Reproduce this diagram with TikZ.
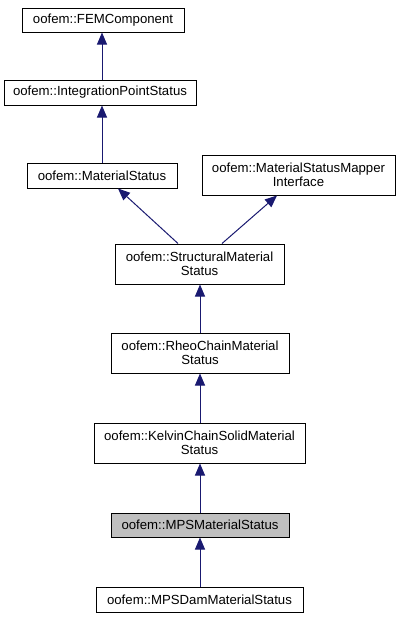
\documentclass[tikz,border=0pt]{standalone}
\usepackage{fontspec}
\setmainfont{Liberation Sans}
\usetikzlibrary{arrows.meta,calc}
\definecolor{edgeblue}{HTML}{191970}
\definecolor{hilite}{HTML}{BFBFBF}
\begin{document}
\begin{tikzpicture}[x=1pt,y=-1pt,
  cls/.style={draw=black,line width=1pt,fill=white,inner sep=0pt,align=center,
    font=\fontsize{13.2}{14}\selectfont},
  inh/.style={draw=edgeblue,line width=1pt,{Triangle[length=12pt,width=10pt,fill=edgeblue]}-}]
\useasboundingbox (0,0) rectangle (401,619);
\node[cls,minimum width=162pt,minimum height=24pt] (fem) at (103,20) {oofem::FEMComponent};
\node[cls,minimum width=192pt,minimum height=25pt] (ips) at (100,92.5) {oofem::IntegrationPointStatus};
\node[cls,minimum width=150pt,minimum height=25pt] (ms) at (102,175.5) {oofem::MaterialStatus};
\node[cls,minimum width=193pt,minimum height=40pt] (msmi) at (298.5,175) {oofem::MaterialStatusMapper\\Interface};
\node[cls,minimum width=169pt,minimum height=40pt] (sms) at (199.5,264) {oofem::StructuralMaterial\\Status};
\node[cls,minimum width=178pt,minimum height=40pt] (rcms) at (200,353) {oofem::RheoChainMaterial\\Status};
\node[cls,minimum width=211pt,minimum height=40pt] (kcs) at (199.5,443) {oofem::KelvinChainSolidMaterial\\Status};
\node[cls,fill=hilite,minimum width=178pt,minimum height=24pt] (mps) at (200,525) {oofem::MPSMaterialStatus};
\node[cls,minimum width=207pt,minimum height=25pt] (mpsd) at (199.5,599.5) {oofem::MPSDamMaterialStatus};
\draw[inh] (fem.south -| 102,0) -- (ips.north -| 102,0);
\draw[inh] (ips.south -| 102,0) -- (ms.north -| 102,0);
\draw[inh] ($(ms.south)+(16,0)$) -- ($(sms.north)+(-21.5,0)$);
\draw[inh] ($(msmi.south)+(-21.5,0)$) -- ($(sms.north)+(22.5,0)$);
\draw[inh] (sms.south -| 200,0) -- (rcms.north -| 200,0);
\draw[inh] (rcms.south -| 200,0) -- (kcs.north -| 200,0);
\draw[inh] (kcs.south -| 200,0) -- (mps.north -| 200,0);
\draw[inh] (mps.south -| 200,0) -- (mpsd.north -| 200,0);
\end{tikzpicture}
\end{document}
